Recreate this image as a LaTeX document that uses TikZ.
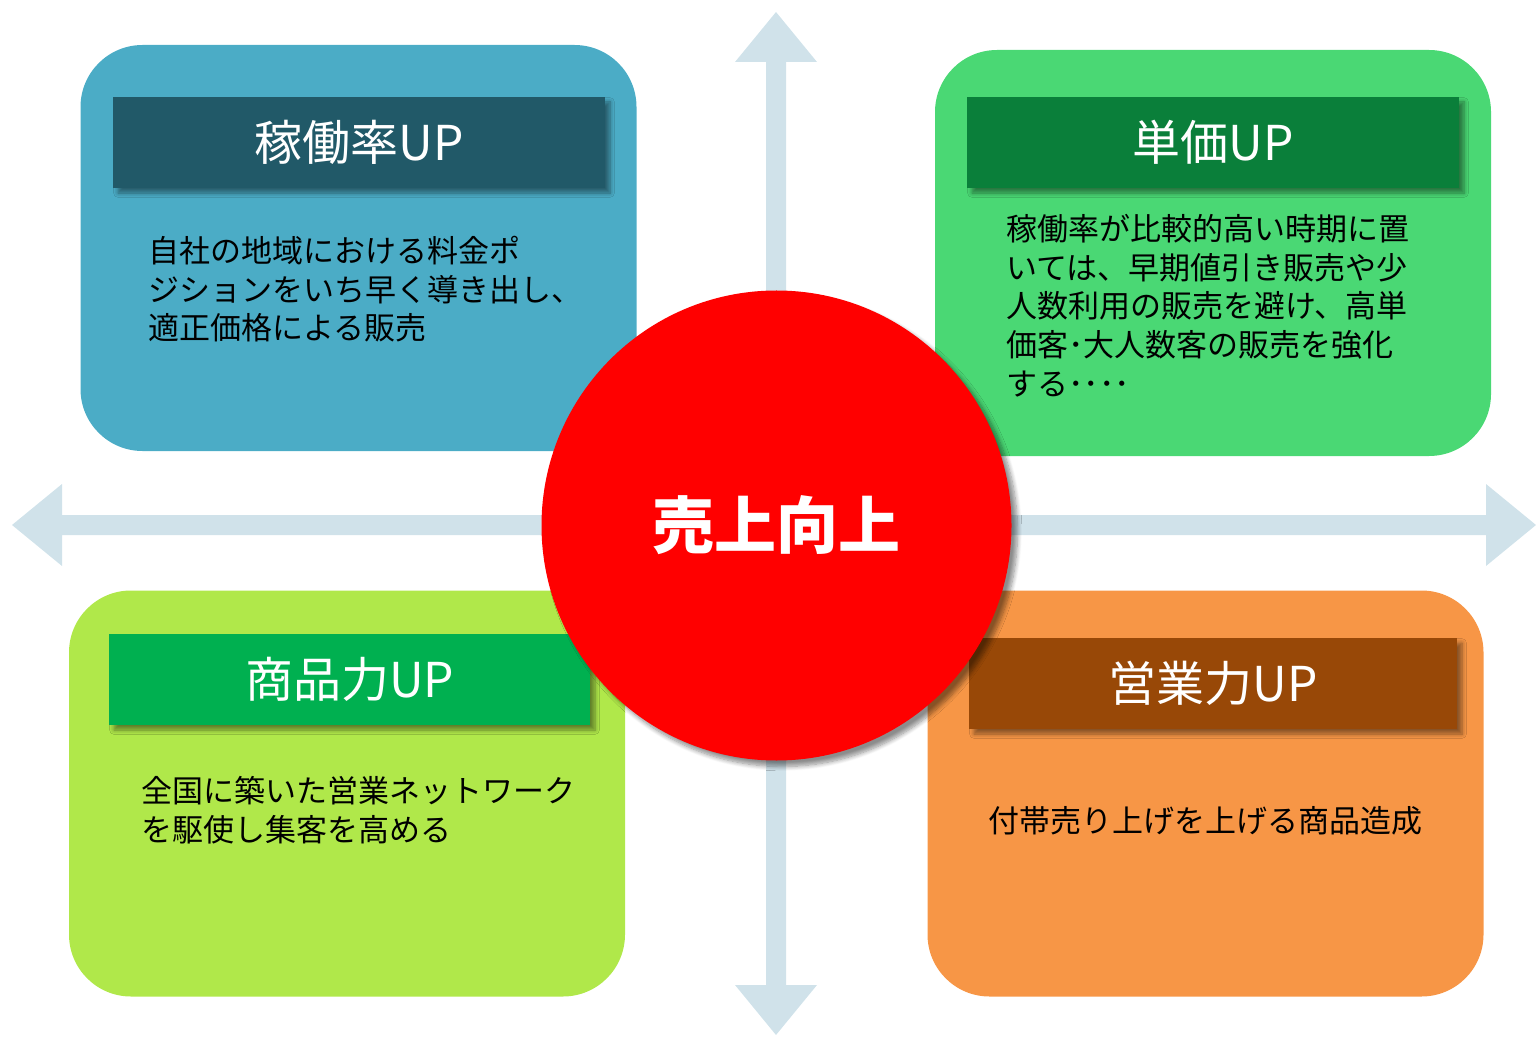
\documentclass[tikz,border=0pt]{standalone}
\usepackage{fontspec}
\setmainfont{Noto Sans CJK JP}
\usetikzlibrary{shadows.blur}
\definecolor{axisblue}{RGB}{208,226,234}
\definecolor{kadoFill}{RGB}{75,172,198}
\definecolor{kadoBar}{RGB}{33,89,104}
\definecolor{tankaFill}{RGB}{74,216,116}
\definecolor{tankaBar}{RGB}{10,127,58}
\definecolor{shohinFill}{RGB}{176,232,74}
\definecolor{shohinBar}{RGB}{0,176,80}
\definecolor{eigyoFill}{RGB}{247,150,70}
\definecolor{eigyoBar}{RGB}{152,72,7}
\tikzset{
    quad/.style={rounded corners=31pt, minimum width=278pt, minimum height=203pt, inner sep=0pt},
    titlebar/.style={minimum height=45.5pt, inner sep=0pt, text=white, font=\fontsize{24}{28}\selectfont,
        blur shadow={shadow xshift=2.5pt, shadow yshift=-2.5pt, shadow blur steps=6, shadow opacity=45}},
    bodytext/.style={anchor=north west, inner sep=0pt, align=left, font=\fontsize{15.5}{19.3}\selectfont},
}
\begin{document}
\begin{tikzpicture}[x=0.5pt,y=-0.5pt]
                \useasboundingbox (0,0) rectangle (1536,1037);
                \foreach \ang/\len in {0/760,90/513,180/764,270/510}
                {
                    \fill[axisblue,shift={(776,525)},rotate=\ang] (0,-10) -- (\len-50,-10) -- (\len-50,-41) -- (\len,0) -- (\len-50,41) -- (\len-50,10) -- (0,10) -- cycle;
                }
                \node[quad, fill=kadoFill] (kadoBox) at (358.5,248) {};
                \node[quad, fill=tankaFill] (tankaBox) at (1213,253) {};
                \node[quad, fill=shohinFill] (shohinBox) at (347,793.5) {};
                \node[quad, fill=eigyoFill] (eigyoBox) at (1205.5,793.5) {};
                \node[titlebar, fill=kadoBar, minimum width=246pt] (kadoTitle) at (359,142.5) {稼働率UP};
                \node[titlebar, fill=tankaBar, minimum width=246pt] (tankaTitle) at (1213,142.5) {単価UP};
                \node[titlebar, fill=shohinBar, minimum width=240.5pt] (shohinTitle) at (349.5,679.5) {商品力UP};
                \node[titlebar, fill=eigyoBar, minimum width=244pt] (eigyoTitle) at (1213,683.5) {営業力UP};
                \node[bodytext] (kadoText) at (148,236) {自社の地域における料金ポ\\ジションをいち早く導き出し、\\適正価格による販売};
                \node[bodytext] (tankaText) at (1006,214) {稼働率が比較的高い時期に置\\いては、早期値引き販売や少\\人数利用の販売を避け、高単\\価客･大人数客の販売を強化\\する････};
                \node[bodytext] (shohinText) at (141,776) {全国に築いた営業ネットワーク\\を駆使し集客を高める};
                \node[bodytext] (eigyoText) at (988,806) {付帯売り上げを上げる商品造成};
                \node[circle, fill=red, minimum size=235pt, inner sep=0pt, text=white, font=\bfseries\fontsize{31}{36}\selectfont,
                    blur shadow={shadow xshift=3pt, shadow yshift=-3pt, shadow blur steps=8, shadow opacity=45}] (uriage) at (776.5,525.5) {売上向上};
\end{tikzpicture}
\end{document}
